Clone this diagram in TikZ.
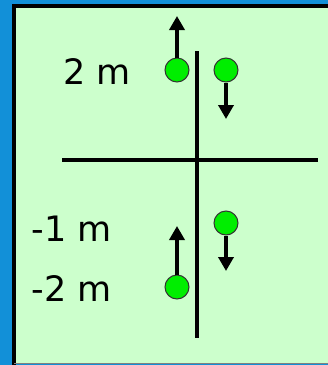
\documentclass[tikz,border=0pt]{standalone}
\usepackage{fontspec}
\setmainfont{DejaVu Sans}
\usetikzlibrary{arrows.meta}
\definecolor{panelblue}{RGB}{18,144,216}
\definecolor{panelgreen}{RGB}{204,255,204}
\definecolor{ballgreen}{RGB}{0,238,0}
\tikzset{
  ball/.style={
    circle,
    fill=ballgreen,
    draw=black!80,
    line width=1pt,
    inner sep=0pt,
    minimum size=24pt
  },
  velocity/.style={
    -{Triangle[length=14pt,width=15pt]},
    line width=4pt
  },
  axis line/.style={
    line width=4pt
  },
  height label/.style={
    font=\fontsize{35}{40}\selectfont
  }
}
\begin{document}
\begin{tikzpicture}[x=1pt, y=-1pt]
  \useasboundingbox (0,0) rectangle (328,365);
  % 背景与面板
  \fill[panelblue] (0,0) rectangle (328,365);
  \fill[panelgreen] (14,6) rectangle (328,364);
  \draw[line width=4pt] (14,366) -- (14,6) -- (330,6);
  \draw[gray, line width=1.2pt] (14,363.5) -- (328,363.5);

  % 坐标轴
  \coordinate (vtop) at (197,51);
  \coordinate (vbot) at (197,338);
  \coordinate (hleft) at (62,160);
  \coordinate (hright) at (318,160);
  \draw[axis line] (vtop) -- (vbot);
  \draw[axis line] (hleft) -- (hright);

  % 高度标注
  \node[height label] (lab2) at (97,72) {2 m};
  \node[height label] (labm1) at (72,229) {-1 m};
  \node[height label] (labm2) at (72,289) {-2 m};

  % 小球与速度箭头
  \node[ball] (ballA) at (177,70) {};
  \node[ball] (ballB) at (226,70) {};
  \node[ball] (ballC) at (226,223) {};
  \node[ball] (ballD) at (177,287) {};

  \coordinate (tipA) at (177,16);
  \coordinate (tipB) at (226,119);
  \coordinate (tipC) at (226,271);
  \coordinate (tipD) at (177,226);
  \draw[velocity] (ballA.north) -- (tipA);
  \draw[velocity] (ballB.south) -- (tipB);
  \draw[velocity] (ballC.south) -- (tipC);
  \draw[velocity] (ballD.north) -- (tipD);
\end{tikzpicture}
\end{document}
